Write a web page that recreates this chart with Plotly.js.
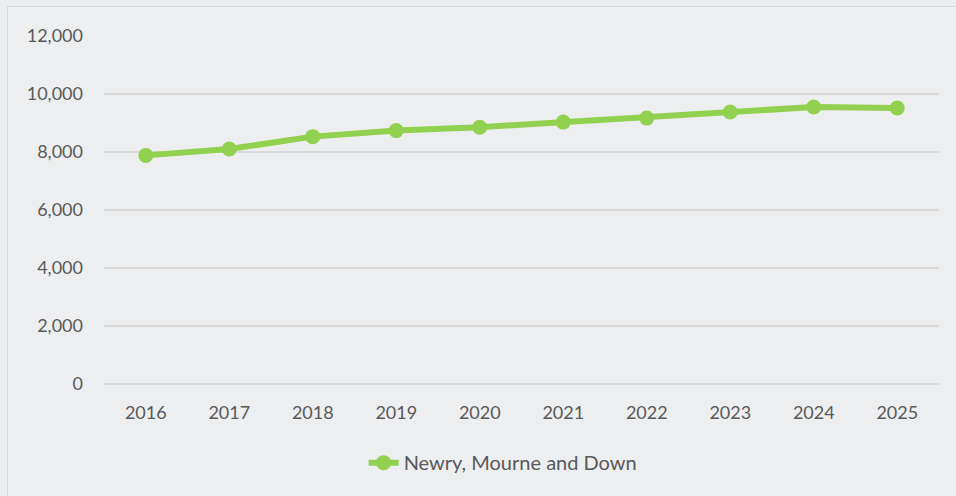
<!DOCTYPE html>
<html>
<head>
<meta charset="utf-8">
<script src="https://cdn.plot.ly/plotly-3.0.1.min.js"></script>
<style>
html,body{margin:0;padding:0;background:#edeef0;overflow:hidden;}
#chart{width:956px;height:496px;position:absolute;left:0;top:0;}
#frame{position:absolute;left:7px;top:6px;width:1000px;height:600px;border:1.5px solid #d9d9d9;pointer-events:none;}
</style>
</head>
<body>
<div id="chart"></div>
<div id="frame"></div>
<script>
const years = ['2016','2017','2018','2019','2020','2021','2022','2023','2024','2025'];
const values = [7885, 8104, 8532, 8741, 8858, 9033, 9172, 9381, 9555, 9520];
const seriesName = 'Newry, Mourne and Down';
const yTicks = [0, 2000, 4000, 6000, 8000, 10000, 12000];
const yTickLabels = ['0', '2,000', '4,000', '6,000', '8,000', '10,000', '12,000'];

const font = {family: 'Lato, "Open Sans", sans-serif', size: 18, color: '#595959'};

Plotly.newPlot('chart', [{
  x: years,
  y: values,
  name: seriesName,
  type: 'scatter',
  mode: 'lines+markers',
  line: {color: '#92d050', width: 6},
  marker: {color: '#92d050', size: 15},
  showlegend: true
}], {
  width: 956, height: 496,
  paper_bgcolor: '#edeef0',
  plot_bgcolor: '#edeef0',
  font: font,
  margin: {l: 104, r: 17, t: 36.3, b: 112.1},
  xaxis: {
    type: 'category',
    range: [-0.5, 9.5],
    showgrid: false, zeroline: false, showline: false,
    ticks: '', tickfont: font, ticklabelstandoff: 16,
    fixedrange: true
  },
  yaxis: {
    range: [-5, 12005],
    tickvals: yTicks, ticktext: yTickLabels,
    showgrid: true, gridcolor: '#d9d9d9', gridwidth: 1.5,
    zeroline: true, zerolinecolor: '#d9d9d9', zerolinewidth: 1.5,
    showline: false, ticks: '',
    tickfont: font, ticklabelstandoff: 20,
    fixedrange: true
  },
  showlegend: true,
  legend: {
    orientation: 'h', x: 0.478, xanchor: 'center', y: -0.226, yanchor: 'middle',
    font: {family: font.family, size: 20, color: '#595959'}, bgcolor: 'rgba(0,0,0,0)'
  }
}, {displayModeBar: false, staticPlot: true});
</script>
</body>
</html>
